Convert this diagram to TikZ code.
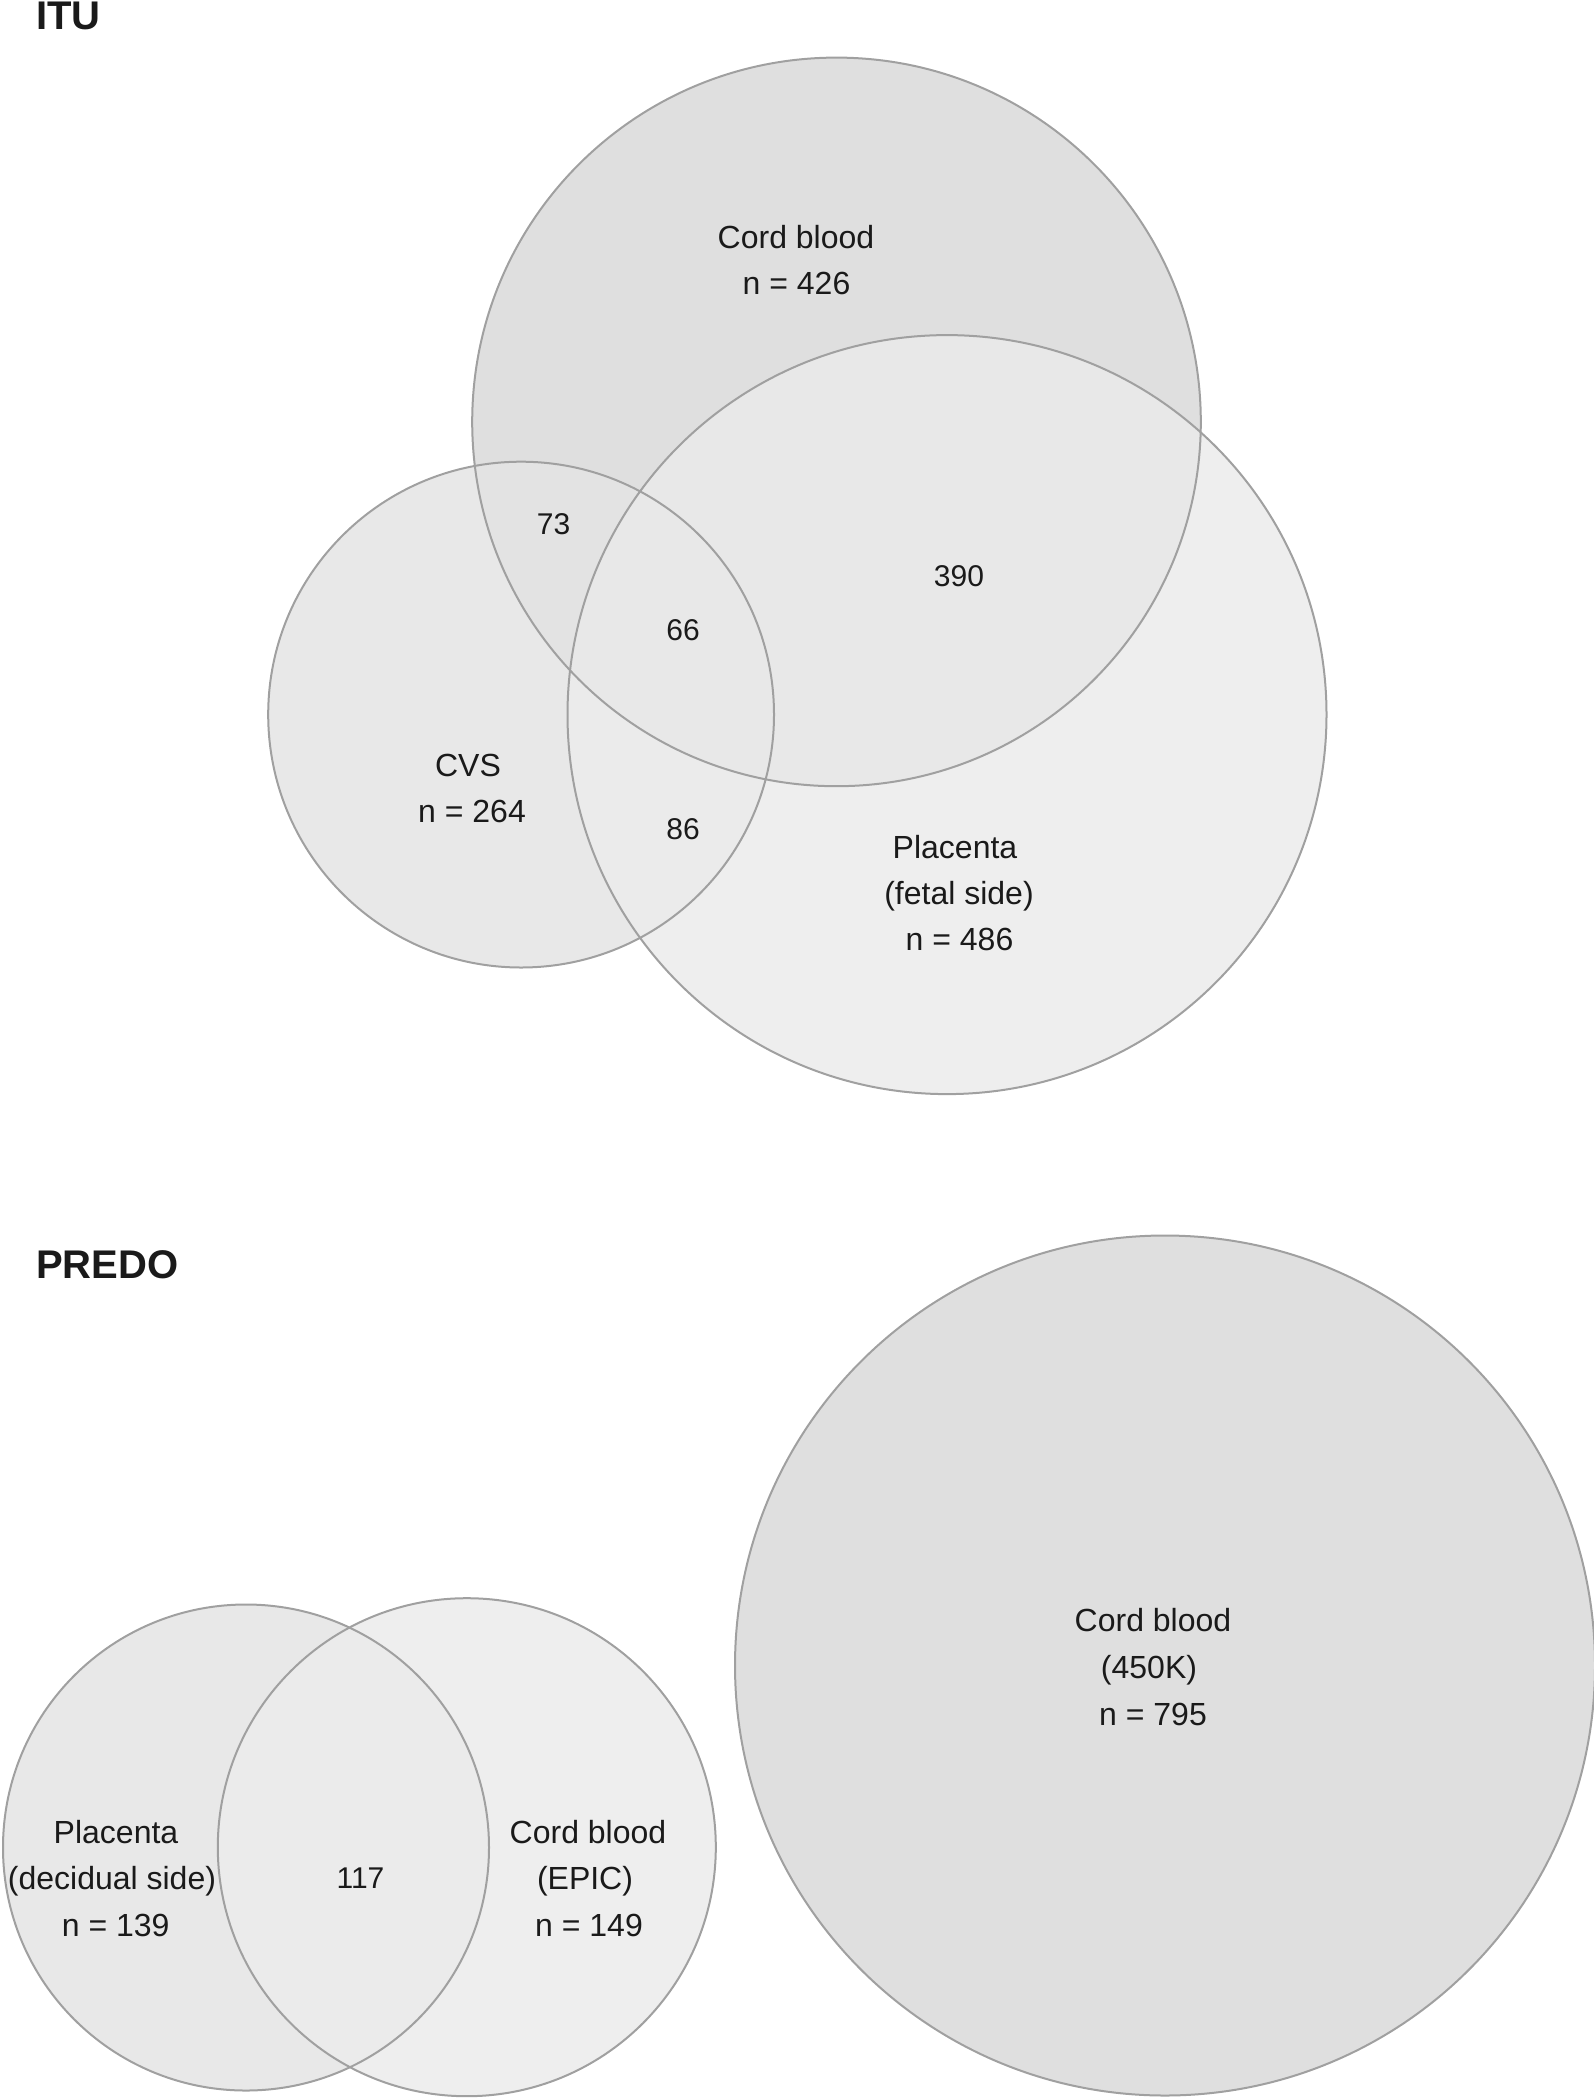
\documentclass[tikz,border=0pt]{standalone}
\usepackage{fontspec}
\setmainfont{Liberation Sans}
\definecolor{cordc}{HTML}{DFDFDF}
\definecolor{placc}{HTML}{EEEEEE}
\definecolor{cvsc}{HTML}{E8E8E8}
\definecolor{cpc}{HTML}{E8E8E8}
\definecolor{cvc}{HTML}{E3E3E3}
\definecolor{pvc}{HTML}{EBEBEB}
\definecolor{allc}{HTML}{E8E8E8}
\definecolor{decc}{HTML}{E8E8E8}
\definecolor{epicc}{HTML}{EEEEEE}
\definecolor{dec2c}{HTML}{EBEBEB}
\definecolor{edgec}{HTML}{A0A0A0}
\definecolor{txtc}{HTML}{1A1A1A}
\begin{document}
\begin{tikzpicture}[x=1pt,y=-1pt,
  outline/.style={draw=edgec,line width=2pt},
  lab/.style={anchor=base,inner sep=0pt,text=txtc,font=\fontsize{32}{46}\selectfont},
  num/.style={anchor=base,inner sep=0pt,text=txtc,font=\fontsize{30}{36}\selectfont},
  title/.style={anchor=base west,inner sep=0pt,text=txtc,font=\fontsize{40}{48}\selectfont\bfseries}]
\useasboundingbox (0,0) rectangle (1594,2100);
% ITU circles
\coordinate (C) at (836.5,421.9);
\coordinate (P) at (947,714.6);
\coordinate (V) at (521.1,714.6);
\fill[cordc] (C) circle (364.3);
\fill[placc] (P) circle (379.5);
\fill[cvsc] (V) circle (252.9);
\begin{scope}\clip (C) circle (364.3); \fill[cpc] (P) circle (379.5);\end{scope}
\begin{scope}\clip (C) circle (364.3); \fill[cvc] (V) circle (252.9);\end{scope}
\begin{scope}\clip (P) circle (379.5); \fill[pvc] (V) circle (252.9);\end{scope}
\begin{scope}\clip (C) circle (364.3); \clip (P) circle (379.5); \fill[allc] (V) circle (252.9);\end{scope}
\draw[outline] (C) circle (364.3);
\draw[outline] (P) circle (379.5);
\draw[outline] (V) circle (252.9);
% PREDO circles
\coordinate (D) at (246,1847.5);
\coordinate (E) at (466.8,1847.2);
\coordinate (K) at (1165,1665.5);
\fill[decc] (D) circle (243);
\fill[epicc] (E) circle (249);
\begin{scope}\clip (D) circle (243); \fill[dec2c] (E) circle (249);\end{scope}
\fill[cordc] (K) circle (430);
\draw[outline] (D) circle (243);
\draw[outline] (E) circle (249);
\draw[outline] (K) circle (430);
% titles
\node[title] (itu) at (36,29.3) {ITU};
\node[title] (predo) at (36,1278.3) {PREDO};
% ITU labels
\node[lab] (cb1) at (796,248) {Cord blood};
\node[lab] (cb2) at (796.5,294) {n = 426};
\node[num] (n73) at (553.5,534) {73};
\node[num] (n66) at (683,640) {66};
\node[num] (n390) at (959,586.7) {390};
\node[lab] (cvs1) at (468,776) {CVS};
\node[lab] (cvs2) at (472,822.7) {n = 264};
\node[num] (n86) at (683,839) {86};
\node[lab] (pf1) at (955,858) {Placenta};
\node[lab] (pf2) at (959,904) {(fetal side)};
\node[lab] (pf3) at (959.5,950) {n = 486};
% PREDO labels
\node[lab] (pd1) at (116,1843.3) {Placenta};
\node[lab] (pd2) at (112,1889.5) {(decidual side)};
\node[lab] (pd3) at (115.7,1936) {n = 139};
\node[num] (n117) at (360.5,1888) {117};
\node[lab] (ep1) at (588,1843.3) {Cord blood};
\node[lab] (ep2) at (585,1889.5) {(EPIC)};
\node[lab] (ep3) at (589,1936) {n = 149};
\node[lab] (k1) at (1153,1631.7) {Cord blood};
\node[lab] (k2) at (1149,1678.5) {(450K)};
\node[lab] (k3) at (1153,1725) {n = 795};
\end{tikzpicture}
\end{document}
